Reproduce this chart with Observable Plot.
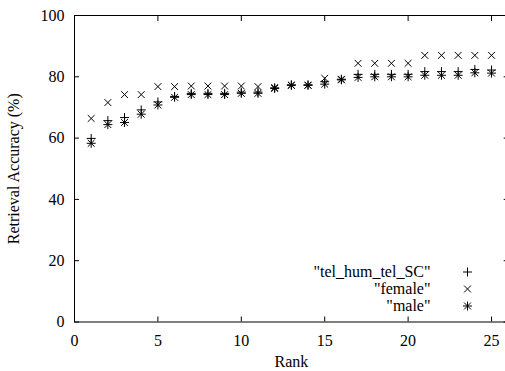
<!DOCTYPE html>
<html>
<head>
<meta charset="utf-8">
<script src="https://cdn.jsdelivr.net/npm/d3@7"></script>
<script src="https://cdn.jsdelivr.net/npm/@observablehq/plot@0.6"></script>
<style>
  html, body { margin: 0; padding: 0; background: #fff; }
  #chart svg { display: block; }
  #chart svg, #chart svg text, #chart svg g { font-family: "Liberation Serif", serif !important; }
  #chart svg text { font-variant-numeric: normal !important; }
</style>
</head>
<body>
<div id="chart"></div>
<script>
const ranks = [1,2,3,4,5,6,7,8,9,10,11,12,13,14,15,16,17,18,19,20,21,22,23,24,25];
const telHumTelSC = [59.9,65.7,66.7,69.2,71.8,73.6,74.6,74.6,74.6,75.0,75.0,76.4,77.4,77.4,78.4,79.2,80.8,80.8,80.8,80.8,81.7,81.7,81.7,82.4,82.2];
const female = [66.4,71.6,74.2,74.2,76.8,76.8,77.0,77.0,77.0,77.0,76.8,76.5,77.3,77.3,79.5,79.2,84.4,84.4,84.4,84.4,87.0,87.0,87.0,87.0,87.0];
const male = [58.3,64.4,65.1,67.8,70.8,73.3,74.2,74.2,74.2,74.6,74.6,76.2,77.2,77.2,77.6,79.0,79.8,80.0,80.0,80.0,80.5,80.5,80.5,81.3,81.2];
const seriesNames = ['"tel_hum_tel_SC"', '"female"', '"male"'];
const xTicks = [0,5,10,15,20,25];
const yTicks = [0,20,40,60,80,100];

const FONT = "Liberation Serif";
const seriesValues = [telHumTelSC, female, male];
// symbols per series (male = star: plus + times overlaid)
const seriesSymbols = [["plus"], ["times"], ["plus", "times"]];
const symbolR = {plus: 3.0, times: 3.2};

const tables = seriesValues.map(vals => ranks.map((r, i) => ({rank: r, value: vals[i]})));

const marks = [];
tables.forEach((tbl, si) => {
  seriesSymbols[si].forEach(sym => {
    marks.push(Plot.dot(tbl, {x: "rank", y: "value", symbol: () => sym, r: symbolR[sym], stroke: "black", strokeWidth: 1}));
  });
});

// legend inside plot, bottom-right
seriesNames.forEach((name, i) => {
  const dy = -50 + 17 * i;
  marks.push(Plot.text([name], {text: d => d, frameAnchor: "bottom-right", dx: -77.7, dy, textAnchor: "end", lineAnchor: "middle", fill: "black", fontSize: 16, fontFamily: FONT}));
  seriesSymbols[i].forEach(sym => {
    marks.push(Plot.dot([name], {frameAnchor: "bottom-right", dx: -40.7, dy, symbol: () => sym, r: symbolR[sym], stroke: "black", strokeWidth: 1}));
  });
});

const W = 505, H = 371;
const chart = Plot.plot({
  width: W,
  height: H,
  marginLeft: 74,
  marginRight: -2.7,
  marginTop: 15,
  marginBottom: 49.5,
  style: {fontFamily: FONT, fontSize: "16px", color: "black", background: "white"},
  x: {domain: [0, 26]},
  y: {domain: [0, 100]},
  symbol: {type: "identity"},
  marks: [
    Plot.frame({stroke: "black", strokeWidth: 1}),
    Plot.axisX(xTicks, {anchor: "bottom", tickSize: -5, tickPadding: 18, label: "Rank", labelAnchor: "center", labelArrow: "none", labelOffset: 45, fontSize: 16, fontFamily: FONT, stroke: "black"}),
    Plot.axisX(xTicks, {anchor: "top", tickSize: -5, tickFormat: () => "", label: null, stroke: "black"}),
    Plot.axisY(yTicks, {anchor: "left", tickSize: -5, tickPadding: 15, label: "Retrieval Accuracy (%)", labelAnchor: "center", labelArrow: "none", labelOffset: 67, fontSize: 16, fontFamily: FONT, stroke: "black"}),
    Plot.axisY(yTicks, {anchor: "right", tickSize: -5, tickFormat: () => "", label: null, stroke: "black"}),
    ...marks
  ]
});
document.getElementById("chart").appendChild(chart);
</script>
</body>
</html>
